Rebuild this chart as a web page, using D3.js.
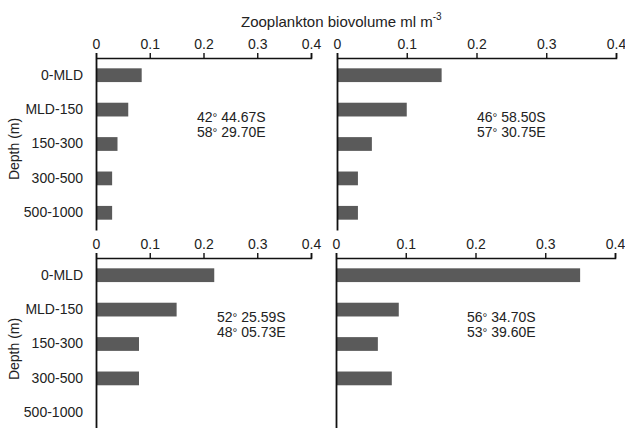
<!DOCTYPE html>
<html>
<head>
<meta charset="utf-8">
<script src="https://cdn.jsdelivr.net/npm/d3@7"></script>
<style>
  body { margin: 0; background: #fff; }
  svg text { font-family: "Liberation Sans", Arial, sans-serif; fill: #222; }
</style>
</head>
<body>
<svg id="content" width="625" height="428"></svg>
<script>
// depth categories (y axis)
const depths = ["0-MLD", "MLD-150", "150-300", "300-500", "500-1000"];
const xTicks = [0, 0.1, 0.2, 0.3, 0.4];

// zooplankton biovolume per station, in depth order
const station1 = [0.085, 0.06, 0.04, 0.03, 0.03];
const station2 = [0.15, 0.10, 0.05, 0.03, 0.03];
const station3 = [0.22, 0.15, 0.08, 0.08, 0];
const station4 = [0.35, 0.09, 0.06, 0.08, 0];

// station positions written on each panel
const coords1 = ["42", "44.67S", "58", "29.70E"];
const coords2 = ["46", "58.50S", "57", "30.75E"];
const coords3 = ["52", "25.59S", "48", "05.73E"];
const coords4 = ["56", "34.70S", "53", "39.60E"];

const svg = d3.select("#content");

// one panel = horizontal bars with axis on top
function panel(data, coords, box, showLabels) {
    const x = d3.scaleLinear()
        .domain([0, 0.4])
        .range([box.x0, box.x1]);

    const y = d3.scaleBand()
        .domain(depths)
        .range([box.y0, box.y0 + 172])
        .paddingInner(0.6)
        .paddingOuter(0.3);

    const g = svg.append("g");

    g.selectAll("rect")
        .data(data)
        .enter()
        .append("rect")
          .attr("x", x(0))
          .attr("y", (d, i) => y(depths[i]))
          .attr("width", d => x(d) - x(0))
          .attr("height", y.bandwidth())
          .attr("fill", "#5a5a5a");

    // top axis, ticks pointing up
    const ax = g.append("g")
        .attr("transform", `translate(0,${box.y0})`)
        .call(d3.axisTop(x).tickValues(xTicks).tickSize(5).tickSizeOuter(5)
            .tickFormat(d => d === 0 ? "0" : d3.format(".1f")(d)));
    ax.select(".domain").attr("stroke", "#111").attr("stroke-width", 1.6);
    ax.selectAll(".tick line").attr("stroke", "#111").attr("stroke-width", 1.4);
    ax.selectAll(".tick text")
        .attr("font-size", 14)
        .attr("fill", "#222")
        .attr("font-family", "Liberation Sans, Arial, sans-serif")
        .attr("dy", "-0.1em");

    // left axis: just a line, labels only on the left panels
    const ay = g.append("g")
        .attr("transform", `translate(${box.x0},0)`)
        .call(d3.axisLeft(y).tickSize(0).tickPadding(13)
            .tickFormat(showLabels ? (d => d) : () => ""));
    ay.select(".domain").attr("stroke", "#111").attr("stroke-width", 1.8);
    ay.selectAll(".tick text")
        .attr("font-size", 14)
        .attr("fill", "#222")
        .attr("font-family", "Liberation Sans, Arial, sans-serif");

    if (showLabels) {
        g.append("text")
            .attr("transform", `translate(19,${box.y0 + 91}) rotate(-90)`)
            .attr("text-anchor", "middle")
            .attr("font-size", 14)
            .text("Depth (m)");
    }

    // lat / lon note
    [0, 1].forEach(k => {
        const t = g.append("text")
            .attr("x", box.tx)
            .attr("y", box.y0 + 64 + k * 15)
            .attr("font-size", 14);
        t.append("tspan").text(coords[k * 2]);
        t.append("tspan").attr("font-size", 12).text("\u00b0");
        t.append("tspan").text(" " + coords[k * 2 + 1]);
    });
}

panel(station1, coords1, { x0: 96, x1: 311, y0: 58, tx: 197 }, true);
panel(station2, coords2, { x0: 337, x1: 616, y0: 58, tx: 477 }, false);
panel(station3, coords3, { x0: 96, x1: 311, y0: 258, tx: 217 }, true);
panel(station4, coords4, { x0: 336, x1: 615, y0: 258, tx: 467 }, false);

// shared title
const title = svg.append("text")
    .attr("x", 241)
    .attr("y", 27)
    .attr("font-size", 15);
title.append("tspan").text("Zooplankton biovolume ml m");
title.append("tspan").attr("font-size", 10).attr("dy", -7).text("-3");
</script>
</body>
</html>
